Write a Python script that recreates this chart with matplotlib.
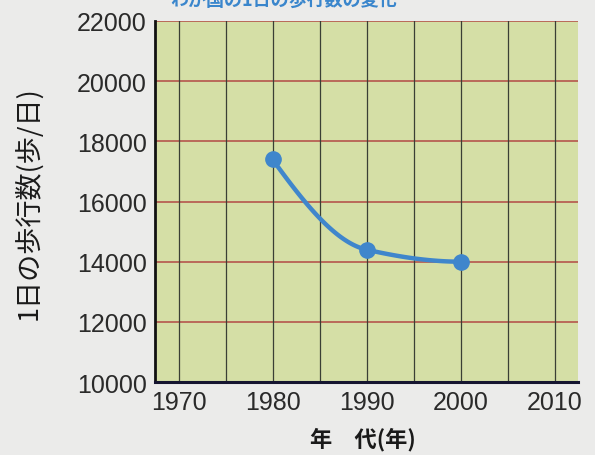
import matplotlib.pyplot as plt
import numpy as np

plt.rcParams['font.family'] = ['Liberation Sans', 'Noto Sans CJK JP', 'DejaVu Sans']

years = [1980, 1990, 2000]
steps = [17400, 14400, 14000]
x_ticks = [1970, 1980, 1990, 2000, 2010]
y_ticks = [10000, 12000, 14000, 16000, 18000, 20000, 22000]

title = 'わが国の1日の歩行数の変化'
xlabel = '年\u3000代(年)'
ylabel = '1日の歩行数(歩/日)'

blue = '#3f86cc'


def smooth(x, y, n=60):
    # monotone cubic (pchip style) through the points
    x = np.asarray(x, float)
    y = np.asarray(y, float)
    h = np.diff(x)
    d = np.diff(y) / h
    m = np.zeros_like(y)
    for i in range(1, len(x) - 1):
        if d[i - 1] * d[i] > 0:
            m[i] = 2 / (1 / d[i - 1] + 1 / d[i])
    m[0] = (3 * d[0] - d[1]) / 2
    if np.sign(m[0]) != np.sign(d[0]):
        m[0] = 0
    m[-1] = (3 * d[-1] - d[-2]) / 2
    if np.sign(m[-1]) != np.sign(d[-1]):
        m[-1] = 0
    xs, ys = [], []
    for i in range(len(h)):
        t = np.linspace(0, 1, n)
        h00 = 2 * t**3 - 3 * t**2 + 1
        h10 = t**3 - 2 * t**2 + t
        h01 = -2 * t**3 + 3 * t**2
        h11 = t**3 - t**2
        xs.append(x[i] + t * h[i])
        ys.append(h00 * y[i] + h10 * h[i] * m[i] + h01 * y[i + 1] + h11 * h[i] * m[i + 1])
    return np.concatenate(xs), np.concatenate(ys)


fig = plt.figure(figsize=(5.95, 4.56), dpi=100, facecolor='#ebebea')
ax = fig.add_axes([0.2605, 0.160, 0.711, 0.7918])
ax.set_facecolor('#d5dfa6')

ax.set_xlim(1967.5, 2012.5)
ax.set_ylim(10000, 22000)

for yy in y_ticks[1:]:
    ax.axhline(yy, color='#b34a45', lw=1.1, zorder=1)
for xx in np.arange(1970, 2011, 5):
    ax.axvline(xx, color='#3a3f35', lw=0.9, zorder=1)

sx, sy = smooth(years, steps)
ax.plot(sx, sy, color=blue, lw=3.2, solid_capstyle='round', zorder=3)
ax.plot(years, steps, 'o', color=blue, ms=11, zorder=4)

ax.set_xticks(x_ticks)
ax.set_yticks(y_ticks)
ax.tick_params(length=0, labelsize=18, labelcolor='#2a2a2a', pad=6)

for s in ['top', 'right']:
    ax.spines[s].set_visible(False)
ax.spines['left'].set_linewidth(2)
ax.spines['left'].set_color('#111111')
ax.spines['bottom'].set_linewidth(2.2)
ax.spines['bottom'].set_color('#151530')

fig.text(0.047, 0.555, ylabel, rotation=90, ha='center', va='center',
         fontsize=19.5, family=['Noto Sans CJK JP'], color='#1a1a1a')
fig.text(0.61, 0.035, xlabel, ha='center', va='center', fontsize=16,
         fontweight='bold', family=['Noto Sans CJK JP'], color='#1a1a1a')
fig.text(0.476, 0.987, title, ha='center', va='baseline', fontsize=13,
         fontweight='bold', family=['Noto Sans CJK JP'], color='#3a86cc')

fig.savefig('out.png', dpi=100, facecolor=fig.get_facecolor())
